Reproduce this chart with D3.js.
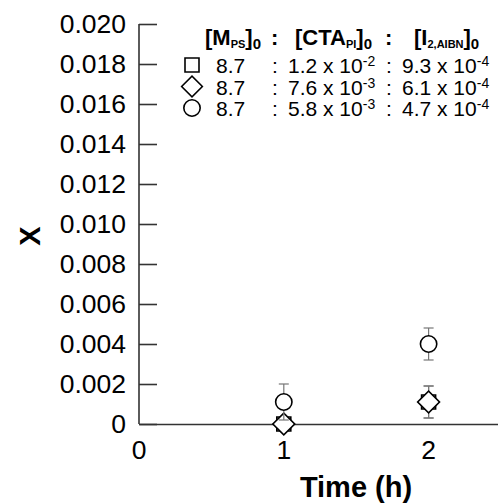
<html lang="en">
<head>
<meta charset="utf-8">
<title>X vs time</title>
<style>
  body { margin: 0; background: #fff; }
  text { font-family: Arial, "Liberation Sans", sans-serif; fill: #000; }
  .axis path, .axis line { fill: none; stroke: #333; stroke-width: 1.6; }
  .err { stroke: #777; stroke-width: 1.2; fill: none; }
  .mark { fill: #fff; stroke: #000; stroke-width: 1.6; }
</style>
<script src="https://d3js.org/d3.v7.min.js"></script>
</head>
<body>
<svg id="chart" width="498" height="503"></svg>
<script>
// data
var times = [1, 2];
var seriesNames = ["square", "diamond", "circle"];
var squareX = [0, 0.0011];
var squareErr = [0, 0.0008];
var diamondX = [0, 0.0011];
var diamondErr = [0, 0.0008];
var circleX = [0.0011, 0.004];
var circleErr = [0.0009, 0.0008];
var yTicks = [0, 0.002, 0.004, 0.006, 0.008, 0.010, 0.012, 0.014, 0.016, 0.018, 0.020];
var xTicks = [0, 1, 2];
// legend values
var legM = ["8.7", "8.7", "8.7"];
var legCTA = [["1.2", "-2"], ["7.6", "-3"], ["5.8", "-3"]];
var legI = [["9.3", "-4"], ["6.1", "-4"], ["4.7", "-4"]];

var margin = {top: 24, left: 139};
var width = 362, height = 400;

var svg = d3.select("#chart");
var g = svg.append("g").attr("transform", "translate(" + margin.left + "," + margin.top + ")");

var x = d3.scaleLinear().domain([0, 2.5]).range([0, width]);
var y = d3.scaleLinear().domain([0, 0.020]).range([height, 0]);

// y axis, ticks pointing inward
var yAxis = d3.axisRight(y).tickValues(yTicks).tickSize(18).tickFormat("");
g.append("g").attr("class", "axis").call(yAxis).select(".domain").attr("d", "M0," + height + "V0");
g.selectAll(".ylab").data(yTicks).enter().append("text")
  .attr("x", -13).attr("y", function(d) { return y(d) + 9; })
  .attr("text-anchor", "end").style("font-size", "26.5px")
  .text(function(d) { return d === 0 ? "0" : d3.format(".3f")(d); });

// x axis, no tick marks
var xAxis = d3.axisBottom(x).tickValues(xTicks).tickSize(0).tickFormat("");
g.append("g").attr("class", "axis").attr("transform", "translate(0," + height + ")").call(xAxis);
g.selectAll(".xlab").data(xTicks).enter().append("text")
  .attr("x", function(d) { return x(d); }).attr("y", height + 35)
  .attr("text-anchor", "middle").style("font-size", "26.5px")
  .text(function(d) { return d; });

// axis titles
svg.append("text").attr("x", 356).attr("y", 497).attr("text-anchor", "middle")
  .style("font-size", "29px").style("font-weight", "bold").text("Time (h)");
svg.append("text").attr("transform", "translate(40,236) rotate(-90)").attr("text-anchor", "middle")
  .style("font-size", "29px").style("font-weight", "bold").text("X");

var sym = {
  square: d3.symbol().type(d3.symbolSquare).size(196),
  diamond: d3.symbol().type(d3.symbolSquare).size(240),
  circle: d3.symbol().type(d3.symbolCircle).size(210)
};
function markPath(name) { return sym[name](); }
function markRot(name) { return name === "diamond" ? " rotate(45)" : ""; }

var seriesData = [
  {name: "square", vals: squareX, errs: squareErr},
  {name: "diamond", vals: diamondX, errs: diamondErr},
  {name: "circle", vals: circleX, errs: circleErr}
];

seriesData.forEach(function(s) {
  var pts = times.map(function(t, i) { return {t: t, v: s.vals[i], e: s.errs[i]}; });
  var eg = g.append("g");
  pts.filter(function(p) { return p.e > 0; }).forEach(function(p) {
    var cx = x(p.t);
    eg.append("line").attr("class", "err").attr("x1", cx).attr("x2", cx)
      .attr("y1", y(p.v + p.e)).attr("y2", y(Math.max(0, p.v - p.e)));
    [p.v + p.e, p.v - p.e].forEach(function(yy) {
      if (yy < 0) return;
      eg.append("line").attr("class", "err").attr("x1", cx - 5).attr("x2", cx + 5)
        .attr("y1", y(yy)).attr("y2", y(yy));
    });
  });
  g.append("g").selectAll("path").data(pts).enter().append("path")
    .attr("class", "mark").attr("d", markPath(s.name))
    .attr("transform", function(p) { return "translate(" + x(p.t) + "," + y(p.v) + ")" + markRot(s.name); });
});

// legend header, each part its own text so baselines never drift
var leg = svg.append("g");
var headY = 45;
function headPart(xp, main, sub) {
  var t = leg.append("text").attr("x", xp).attr("y", headY)
    .style("font-size", "22px").style("font-weight", "bold");
  t.append("tspan").text(main);
  t.append("tspan").attr("y", headY + 3).style("font-size", "11px").text(sub);
  t.append("tspan").attr("y", headY).text("]");
  t.append("tspan").attr("y", headY + 4).style("font-size", "15px").text("0");
}
function headColon(xp) {
  leg.append("text").attr("x", xp).attr("y", headY)
    .style("font-size", "22px").style("font-weight", "bold").text(":");
}
headPart(205, "[M", "PS");
headColon(271);
headPart(295, "[CTA", "PI");
headColon(385);
headPart(414, "[I", "2,AIBN");

seriesNames.forEach(function(name, i) {
  var cy = 65 + i * 21.5;
  var by = cy + 8;
  leg.append("path").attr("class", "mark").attr("d", markPath(name))
    .attr("transform", "translate(192," + cy + ")" + markRot(name) + (name === "diamond" ? " scale(0.95)" : ""));
  var t = leg.append("text").attr("y", by).style("font-size", "21px");
  t.append("tspan").attr("x", 216).text(legM[i]);
  t.append("tspan").attr("x", 272).text(":");
  t.append("tspan").attr("x", 288).text(legCTA[i][0] + " x 10");
  t.append("tspan").attr("y", by - 7).style("font-size", "14px").text(legCTA[i][1]);
  t.append("tspan").attr("x", 386).attr("y", by).text(":");
  t.append("tspan").attr("x", 402).text(legI[i][0] + " x 10");
  t.append("tspan").attr("y", by - 7).style("font-size", "14px").text(legI[i][1]);
});
</script>
</body>
</html>
